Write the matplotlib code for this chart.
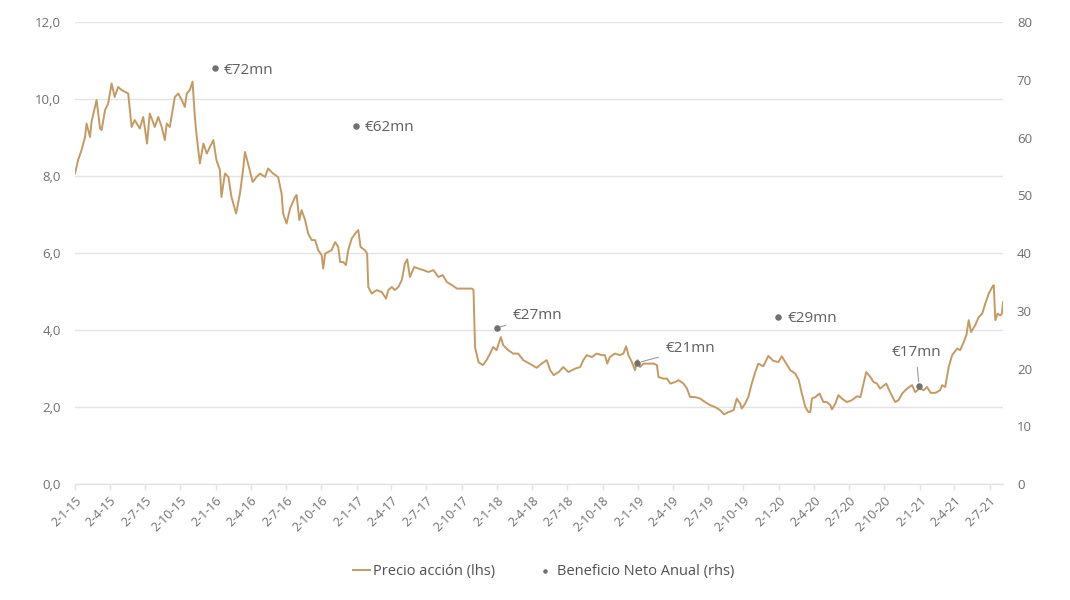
import matplotlib
matplotlib.use("Agg")
import matplotlib.pyplot as plt
import numpy as np
import pandas as pd

plt.rcParams['font.family'] = ['Open Sans', 'DejaVu Sans']

# ---------------- data ----------------
price_dates = [
    # 2015
    "2015-01-02","2015-01-10","2015-01-19","2015-01-28","2015-02-01","2015-02-10","2015-02-14","2015-02-27",
    "2015-03-08","2015-03-12","2015-03-21","2015-03-29","2015-04-07","2015-04-15","2015-04-24","2015-05-03",
    "2015-05-20","2015-05-29","2015-06-06","2015-06-19","2015-06-28","2015-07-08","2015-07-15","2015-07-28",
    "2015-08-06","2015-08-15","2015-08-23","2015-08-28","2015-09-05","2015-09-18","2015-09-27","2015-10-06",
    "2015-10-14","2015-10-19","2015-10-27","2015-11-03","2015-11-09","2015-11-13","2015-11-22","2015-12-01",
    "2015-12-10","2015-12-18","2015-12-27",
    # 2016
    "2016-01-04","2016-01-13","2016-01-17","2016-01-26","2016-02-04","2016-02-12","2016-02-24","2016-03-05",
    "2016-03-13","2016-03-18","2016-03-26","2016-04-07","2016-04-17","2016-04-26","2016-05-09","2016-05-17",
    "2016-05-30","2016-06-12","2016-06-21","2016-06-25","2016-07-04","2016-07-13","2016-07-26","2016-07-30",
    "2016-08-06","2016-08-12","2016-08-21","2016-08-29","2016-09-07","2016-09-16","2016-09-24","2016-10-03",
    "2016-10-07","2016-10-12","2016-10-20","2016-10-29","2016-11-07","2016-11-15","2016-11-20","2016-11-28",
    "2016-12-05","2016-12-11","2016-12-20","2016-12-29",
    # 2017
    "2017-01-06","2017-01-12","2017-01-23","2017-01-29","2017-02-01","2017-02-10","2017-02-23","2017-03-08",
    "2017-03-19","2017-03-25","2017-04-03","2017-04-11","2017-04-20","2017-04-29","2017-05-07","2017-05-13",
    "2017-05-20","2017-05-31","2017-06-11","2017-06-24","2017-07-07","2017-07-20","2017-08-02","2017-08-13",
    "2017-08-24","2017-09-06","2017-09-19","2017-10-02","2017-10-15","2017-10-28","2017-11-01","2017-11-05",
    "2017-11-14","2017-11-25","2017-12-05","2017-12-14","2017-12-22","2017-12-31",
    # 2018
    "2018-01-11","2018-01-17","2018-01-30","2018-02-12","2018-02-25","2018-03-10","2018-03-28","2018-04-14",
    "2018-04-27","2018-05-10","2018-05-19","2018-05-28","2018-06-10","2018-06-22","2018-07-05","2018-07-23",
    "2018-08-05","2018-08-13","2018-08-22","2018-09-04","2018-09-17","2018-09-30","2018-10-08","2018-10-14",
    "2018-10-21","2018-11-03","2018-11-16","2018-11-25","2018-12-02","2018-12-08","2018-12-17","2018-12-25",
    "2018-12-31",
    # 2019
    "2019-01-07","2019-01-16","2019-01-29","2019-02-11","2019-02-20","2019-02-24","2019-03-09","2019-03-18",
    "2019-03-27","2019-04-08","2019-04-17","2019-04-30","2019-05-09","2019-05-17","2019-05-30","2019-06-12",
    "2019-06-25","2019-07-08","2019-07-21","2019-08-03","2019-08-13","2019-08-25","2019-09-07","2019-09-15",
    "2019-09-24","2019-09-28","2019-10-07","2019-10-15","2019-10-24","2019-11-02","2019-11-10","2019-11-23",
    "2019-12-06","2019-12-19",
    # 2020
    "2020-01-01","2020-01-10","2020-01-19","2020-02-01","2020-02-14","2020-02-23","2020-03-02","2020-03-11",
    "2020-03-19","2020-03-24","2020-03-28","2020-04-06","2020-04-17","2020-04-27","2020-05-06","2020-05-15",
    "2020-05-19","2020-05-28","2020-06-05","2020-06-14","2020-06-27","2020-07-10","2020-07-23","2020-08-01",
    "2020-08-09","2020-08-16","2020-08-27","2020-09-04","2020-09-13","2020-09-21","2020-10-07","2020-10-17",
    "2020-10-30","2020-11-08","2020-11-17","2020-11-30","2020-12-13","2020-12-21",
    # 2021
    "2021-01-01","2021-01-12","2021-01-21","2021-01-30","2021-02-12","2021-02-24","2021-03-01","2021-03-09",
    "2021-03-18","2021-03-27","2021-04-09","2021-04-17","2021-04-26","2021-05-03","2021-05-09","2021-05-15",
    "2021-05-26","2021-06-04","2021-06-13","2021-06-21","2021-06-30","2021-07-09","2021-07-13","2021-07-17",
    "2021-07-23","2021-07-30","2021-08-03","2021-08-06",
]
price_values = [
    # 2015
    8.07, 8.42, 8.68, 9.02, 9.37, 9.02, 9.42, 9.98,
    9.24, 9.20, 9.72, 9.89, 10.41, 10.06, 10.32, 10.24,
    10.15, 9.28, 9.46, 9.24, 9.54, 8.85, 9.63, 9.28,
    9.54, 9.28, 8.94, 9.37, 9.28, 10.06, 10.15, 9.98,
    9.80, 10.15, 10.24, 10.46, 9.54, 9.11, 8.33, 8.85,
    8.59, 8.76, 8.94,
    # 2016
    8.42, 8.16, 7.46, 8.07, 7.98, 7.46, 7.03, 7.55,
    8.16, 8.63, 8.33, 7.85, 7.98, 8.07, 7.98, 8.20,
    8.07, 7.98, 7.55, 7.03, 6.77, 7.16, 7.46, 7.51,
    6.86, 7.12, 6.86, 6.51, 6.34, 6.34, 6.08, 5.95,
    5.60, 5.99, 6.03, 6.08, 6.29, 6.16, 5.77, 5.77,
    5.69, 6.08, 6.38, 6.51,
    # 2017
    6.60, 6.16, 6.08, 5.99, 5.12, 4.95, 5.04, 4.99,
    4.82, 5.04, 5.12, 5.04, 5.12, 5.30, 5.73, 5.84,
    5.38, 5.64, 5.60, 5.56, 5.51, 5.56, 5.38, 5.43,
    5.25, 5.17, 5.08, 5.08, 5.08, 5.08, 5.04, 3.56,
    3.17, 3.09, 3.22, 3.39, 3.56, 3.48,
    # 2018
    3.82, 3.61, 3.48, 3.39, 3.39, 3.22, 3.12, 3.02,
    3.13, 3.22, 2.96, 2.83, 2.91, 3.04, 2.91, 3.00,
    3.04, 3.22, 3.35, 3.30, 3.39, 3.35, 3.35, 3.13,
    3.30, 3.39, 3.35, 3.39, 3.58, 3.35, 3.17, 2.96,
    3.22,
    # 2019
    3.04, 3.13, 3.13, 3.13, 3.09, 2.78, 2.74, 2.74,
    2.61, 2.65, 2.70, 2.61, 2.48, 2.26, 2.26, 2.22,
    2.13, 2.05, 2.00, 1.92, 1.81, 1.87, 1.92, 2.22,
    2.09, 1.96, 2.09, 2.26, 2.61, 2.91, 3.13, 3.06,
    3.33, 3.20,
    # 2020
    3.17, 3.32, 3.17, 2.96, 2.87, 2.70, 2.35, 2.00,
    1.87, 1.87, 2.22, 2.26, 2.35, 2.13, 2.13, 2.05,
    1.94, 2.09, 2.31, 2.22, 2.13, 2.18, 2.28, 2.26,
    2.61, 2.91, 2.78, 2.65, 2.61, 2.48, 2.61, 2.39,
    2.13, 2.18, 2.35, 2.48, 2.57, 2.39,
    # 2021
    2.48, 2.44, 2.52, 2.37, 2.37, 2.44, 2.57, 2.52,
    3.04, 3.35, 3.52, 3.48, 3.69, 3.87, 4.26, 3.95,
    4.13, 4.34, 4.43, 4.69, 4.95, 5.12, 5.17, 4.26,
    4.43, 4.38, 4.43, 4.73,
]

profit_dates = ["2015-12-31", "2016-12-31", "2017-12-31", "2018-12-31", "2019-12-31", "2020-12-31"]
profit_values = [72, 62, 27, 21, 29, 17]
profit_labels = ["€72mn", "€62mn", "€27mn", "€21mn", "€29mn", "€17mn"]

left_ticks = [0, 2, 4, 6, 8, 10, 12]
right_ticks = [0, 10, 20, 30, 40, 50, 60, 70, 80]

series_labels = ["Precio acción (lhs)", "Beneficio Neto Anual (rhs)"]

# ---------------- styles ----------------
LINE_COLOR = "#C49A62"
DOT_COLOR = "#707173"
TEXT_COLOR = "#6E6E6E"
GRID_COLOR = "#E3E3E3"

px = pd.to_datetime(price_dates)
pdts = pd.to_datetime(profit_dates)

fig = plt.figure(figsize=(10.7, 6.0), dpi=100)
ax = fig.add_axes([0.0701, 0.1933, 0.8673, 0.7695])
ax2 = ax.twinx()

ln, = ax.plot(px, price_values, color=LINE_COLOR, lw=1.4, zorder=3)
sc = ax2.scatter(pdts, profit_values, s=22, color=DOT_COLOR, zorder=4, linewidths=0)

ax.set_ylim(0, 12)
ax2.set_ylim(0, 80)
ax.set_xlim(pd.Timestamp("2015-01-02"), pd.Timestamp("2021-08-06"))

ax.set_yticks(left_ticks)
ax.set_yticklabels([f"{v:.1f}".replace(".", ",") for v in left_ticks])
ax2.set_yticks(right_ticks)
ax2.set_yticklabels([str(v) for v in right_ticks])

xt = pd.date_range("2015-01-01", "2021-07-01", freq="QS") + pd.Timedelta(days=1)
ax.set_xticks(xt)
ax.set_xticklabels([f"{d.day}-{d.month}-{d.year % 100}" for d in xt],
                   rotation=45, ha="right", rotation_mode="anchor")

for a in (ax, ax2):
    for s in ("top", "right", "left", "bottom"):
        a.spines[s].set_visible(False)

ax.spines["bottom"].set_visible(True)
ax.spines["bottom"].set_color(GRID_COLOR)
ax.spines["bottom"].set_linewidth(1.0)

ax.grid(axis="y", color=GRID_COLOR, lw=1.0, zorder=0)
ax.set_axisbelow(True)

ax.tick_params(axis="y", length=0, pad=10, labelsize=9.5, labelcolor=TEXT_COLOR)
ax2.tick_params(axis="y", length=0, pad=10, labelsize=9.5, labelcolor=TEXT_COLOR)
ax.tick_params(axis="x", length=4, width=1, color=GRID_COLOR, pad=3, labelsize=9,
               labelcolor=TEXT_COLOR)

# ---------------- annotations ----------------
ann_offsets = [(9, -2), (9, -1), (16, 13), (28, 14), (10, -2), (-3, 33)]
ann_leaders = [False, False, True, True, False, True]
ann_ha = ["left", "left", "left", "left", "left", "center"]
for d, v, lab, off, lead, ha in zip(pdts, profit_values, profit_labels, ann_offsets, ann_leaders, ann_ha):
    kw = {}
    if lead:
        kw["arrowprops"] = dict(arrowstyle="-", color="#9A9A9A", lw=0.8, shrinkA=3, shrinkB=3)
    ax2.annotate(lab, xy=(d, v), xytext=off, textcoords="offset pixels",
                 ha=ha, va="center", fontsize=11, color="#5F5F5F", zorder=5, **kw)

# ---------------- legend ----------------
leg = fig.legend([ln, sc], series_labels, loc="center", bbox_to_anchor=(0.508, 0.047),
                 ncol=2, frameon=False, fontsize=10.5, handlelength=1.2, handletextpad=0.2,
                 columnspacing=2.8, markerscale=0.7, labelcolor="#505050")

fig.savefig("out.png", dpi=100)
